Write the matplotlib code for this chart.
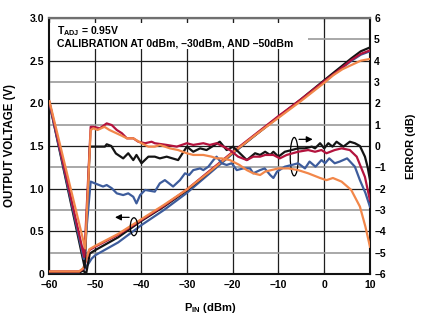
import matplotlib.pyplot as plt
from matplotlib.patches import Ellipse, Rectangle

plt.rcParams['font.family'] = ['Liberation Sans', 'DejaVu Sans']
plt.rcParams['font.weight'] = 'bold'
plt.rcParams['font.size'] = 7.5
plt.rcParams['mathtext.fontset'] = 'custom'
plt.rcParams['mathtext.rm'] = 'Liberation Sans:bold'
plt.rcParams['mathtext.it'] = 'Liberation Sans:bold'
plt.rcParams['mathtext.bf'] = 'Liberation Sans:bold'

# Output voltage vs input power (left axis, V)
pin_v_black = [-60, -53.5, -52.6, -52.0, -51.6, -51.2, -50, -45, -40, -35, -30, -25, -20,
               -15, -10, -5, 0, 3, 6, 8, 10]
vout_black = [0.02, 0.02, 0.04, 0.0, 0.12, 0.24, 0.28, 0.43, 0.62, 0.79, 0.98, 1.2, 1.42,
              1.63, 1.84, 2.05, 2.27, 2.4, 2.53, 2.61, 2.655]
pin_v_red = [-60, -53.5, -52.6, -51.3, -50, -45, -40, -35, -30, -25, -20, -15, -10, -5,
             0, 3, 6, 8, 10]
vout_red = [0.03, 0.03, 0.06, 0.28, 0.32, 0.46, 0.63, 0.8, 0.99, 1.21, 1.43, 1.64, 1.85,
            2.05, 2.26, 2.38, 2.51, 2.58, 2.62]
pin_v_blue = [-60, -53.5, -52.5, -51.5, -50.8, -50, -45, -40, -35, -30, -25, -20, -15,
              -10, -5, 0, 3, 6, 8, 10]
vout_blue = [0.02, 0.02, 0.05, 0.12, 0.18, 0.22, 0.37, 0.57, 0.75, 0.95, 1.18, 1.41, 1.63,
             1.84, 2.04, 2.25, 2.38, 2.5, 2.57, 2.61]
pin_v_orange = [-60, -53.5, -52.6, -51.3, -50, -45, -40, -35, -30, -25, -20, -15, -10, -5,
                0, 2, 4, 6, 8, 10]
vout_orange = [0.03, 0.03, 0.07, 0.29, 0.33, 0.47, 0.64, 0.81, 0.99, 1.2, 1.42, 1.63, 1.83,
               2.03, 2.24, 2.33, 2.4, 2.45, 2.5, 2.52]

# Log conformance error (right axis, dB)
pin_e_black = [-60, -52.3, -51.2, -50.8, -47.9, -47.5, -46.5, -45.5, -43.9, -42.8, -41.7,
               -41.0, -39.9, -38.4, -37.0, -35.9, -34.4, -31.9, -30.0, -28.6, -27.1, -25.7,
               -22.8, -21.3, -19.9, -16.9, -15.1, -14.0, -12.9, -11.8, -11.1, -10.0, -8.6,
               -7.1, -5.7, -4.2, -2.7, -2.0, -0.9, 0.0, 0.9, 1.8, 2.7, 4.2, 5.6, 6.7, 7.8,
               8.9, 9.5, 10.0]
err_black = [2.0, -5.7, -0.03, -0.03, -0.03, 0.08, 0.0, -0.35, -0.58, -0.34, -0.66,
             -0.42, -0.81, -0.5, -0.5, -0.58, -0.5, -0.66, -0.03, -0.27, -0.11, -0.19,
             0.2, -0.19, -0.03, -0.66, -0.34, -0.42, -0.27, -0.42, -0.27, -0.5, -0.27,
             -0.19, -0.11, -0.11, -0.03, -0.11, 0.13, -0.11, 0.13, -0.03, 0.2, -0.03, 0.2,
             0.13, 0.0, -0.5, -1.0, -1.6]
pin_e_red = [-60, -52.4, -51.0, -50.4, -49.0, -47.5, -46.4, -45.3, -44.2, -43.1, -41.7,
             -40.6, -39.1, -37.7, -37.0, -34.4, -32.2, -30.0, -28.6, -26.4, -25.0, -23.5,
             -22.0, -20.6, -18.8, -16.9, -15.5, -14.0, -12.9, -11.1, -9.7, -8.2, -5.7,
             -3.5, -2.0, -0.6, 0.5, 2.3, 3.8, 5.6, 7.1, 8.9, 10.0]
err_red = [2.05, -5.2, 0.9, 0.9, 0.83, 1.06, 0.98, 0.75, 0.6, 0.36, 0.36, 0.2, 0.13, 0.2,
           0.13, 0.05, -0.03, 0.13, 0.05, 0.13, 0.05, 0.13, -0.03, -0.19, -0.5, -0.66,
           -0.5, -0.5, -0.42, -0.42, -0.58, -0.42, -0.27, -0.19, -0.27, -0.19, -0.34,
           -0.19, -0.11, -0.19, -0.5, -1.45, -2.55]
pin_e_blue = [-60, -52.5, -51.0, -50.1, -48.3, -47.5, -46.4, -45.3, -43.9, -42.8, -41.7,
              -41.0, -40.2, -39.1, -37.0, -35.9, -34.8, -33.0, -31.5, -30.4, -29.5, -28.6,
              -27.1, -26.4, -25.3, -24.2, -23.5, -22.4, -21.3, -20.2, -19.1, -17.7, -16.2,
              -15.5, -14.0, -13.0, -11.8, -11.1, -10.3, -8.6, -7.1, -5.7, -4.2, -3.2, -1.9,
              -0.6, 0.2, 1.1, 2.3, 3.4, 5.0, 6.7, 7.8, 9.0, 10.0]
err_blue = [2.0, -5.3, -1.67, -1.75, -1.9, -1.83, -1.98, -2.22, -2.3, -2.22, -2.38, -2.69,
            -2.3, -2.06, -2.14, -1.75, -1.6, -1.9, -1.6, -1.28, -1.36, -1.13, -1.05, -1.13,
            -0.97, -0.66, -0.5, -0.81, -0.89, -0.81, -1.13, -1.05, -1.05, -1.28, -1.13,
            -1.05, -1.36, -1.5, -1.2, -0.97, -0.89, -0.81, -1.05, -0.73, -0.97, -0.66,
            -0.81, -0.58, -0.81, -0.73, -0.58, -0.97, -1.6, -2.2, -2.85]
pin_e_orange = [-60, -52.2, -51.0, -50.4, -49.5, -48.0, -46.9, -44.2, -43.1, -41.7, -39.9,
                -38.4, -37.0, -35.9, -33.7, -31.9, -30.0, -28.6, -26.4, -24.6, -23.5,
                -22.4, -20.6, -18.5, -16.9, -15.5, -14.0, -12.9, -10.0, -7.8, -5.7, -3.5,
                -0.9, 0.5, 1.9, 3.8, 5.9, 7.8, 9.0, 10.0]
err_orange = [2.1, -4.8, 0.75, 0.83, 0.75, 0.9, 0.75, 0.48, 0.36, 0.36, 0.13, -0.03, -0.03,
              0.05, -0.11, -0.19, -0.34, -0.42, -0.42, -0.5, -0.58, -0.58, -0.66, -0.89,
              -1.13, -1.28, -1.36, -1.2, -1.05, -1.05, -1.13, -1.28, -1.5, -1.6, -1.5,
              -1.67, -2.06, -2.84, -3.78, -4.72]

x_ticks = [-60, -50, -40, -30, -20, -10, 0, 10]
x_labels = ['\u201360', '\u201350', '\u201340', '\u201330', '\u201320', '\u201310', '0', '10']
v_ticks = [0, 0.5, 1.0, 1.5, 2.0, 2.5, 3.0]
v_labels = ['0', '0.5', '1.0', '1.5', '2.0', '2.5', '3.0']
e_ticks = list(range(-6, 7))
e_labels = ['\u2013%d' % -t if t < 0 else '%d' % t for t in e_ticks]

BLACK = '#141414'
RED = '#b3133d'
BLUE = '#3d5c9c'
ORANGE = '#f2874a'
LW = 1.6

fig = plt.figure(figsize=(4.24, 3.23), dpi=100)
ax = fig.add_axes([0.1167, 0.1517, 0.7559, 0.7926])
ax2 = ax.twinx()

ax.set_xlim(-60, 10)
ax.set_ylim(0, 3)
ax2.set_ylim(-6, 6)

# grid: dark lines every 10 dBm / 0.5 V, grey lines in between
ax.set_xticks(x_ticks)
ax.set_xticklabels(x_labels, fontweight='bold')
ax.set_yticks(v_ticks)
ax.set_yticklabels(v_labels, fontweight='bold')
ax.set_yticks([0.25, 0.75, 1.25, 1.75, 2.25, 2.75], minor=True)
ax.grid(True, which='major', color='#1e1e1e', lw=0.9)
ax.grid(True, which='minor', axis='y', color='#9a9a9a', lw=1.2)
ax.tick_params(which='both', length=0)
ax.tick_params(axis='x', pad=4.5)
ax.tick_params(axis='y', pad=4)
ax.tick_params(axis='x', which='major', top=True, direction='in', length=3, color='#1e1e1e')

ax2.set_yticks(e_ticks)
ax2.set_yticklabels(e_labels, fontweight='bold')
ax2.tick_params(length=0, pad=3)
for s in ax2.spines.values():
    s.set_visible(False)

for s in ['left', 'right', 'bottom']:
    ax.spines[s].set_linewidth(1.5)
    ax.spines[s].set_color('#111111')
ax.spines['top'].set_linewidth(1.6)
ax.spines['top'].set_color('#707070')

# output voltage traces
ax.plot(pin_v_blue, vout_blue, color=BLUE, lw=LW, zorder=3)
ax.plot(pin_v_black, vout_black, color=BLACK, lw=LW, zorder=3)
ax.plot(pin_v_red, vout_red, color=RED, lw=LW, zorder=3)
ax.plot(pin_v_orange, vout_orange, color=ORANGE, lw=LW, zorder=3)

# error traces
ax2.plot(pin_e_black, err_black, color=BLACK, lw=LW)
ax2.plot(pin_e_blue, err_blue, color=BLUE, lw=LW)
ax2.plot(pin_e_red, err_red, color=RED, lw=LW)
ax2.plot(pin_e_orange, err_orange, color=ORANGE, lw=LW)

# curve-group markers
ax.add_patch(Ellipse((-41.55, 0.554), 1.6, 0.21, fill=False, color='black', lw=0.9, zorder=4))
ax.annotate('', xy=(-46.3, 0.664), xytext=(-42.0, 0.664),
            arrowprops=dict(arrowstyle='-|>', color='black', lw=0.9, mutation_scale=9), zorder=4)
ax.add_patch(Ellipse((-6.54, 1.375), 1.75, 0.45, fill=False, color='black', lw=0.9, zorder=4))
ax.annotate('', xy=(-1.9, 1.578), xytext=(-6.1, 1.578),
            arrowprops=dict(arrowstyle='-|>', color='black', lw=0.9, mutation_scale=9), zorder=4)

# conditions box
ax.add_patch(Rectangle((-60, 2.64), 56.4, 0.30, facecolor='white', edgecolor='none', zorder=1.8))
ax.text(0.0225, 0.9375, 'T$_{\\rm ADJ}$ = 0.95V', transform=ax.transAxes,
        va='baseline', ha='left', fontsize=7.5, fontweight='bold', zorder=5)
ax.text(0.0225, 0.888, 'CALIBRATION AT 0dBm, \u201330dBm, AND \u201350dBm',
        transform=ax.transAxes, va='baseline', ha='left', fontsize=7.5, fontweight='bold',
        zorder=5)

ax.set_xlabel('P$_{\\rm IN}$ (dBm)', fontsize=8, fontweight='bold')
ax.xaxis.set_label_coords(0.5, -0.105)
ax.set_ylabel('OUTPUT VOLTAGE (V)', fontsize=8.3, fontweight='bold')
ax.yaxis.set_label_coords(-0.105, 0.5)
ax2.set_ylabel('ERROR (dB)', fontsize=8, fontweight='bold')
ax2.yaxis.set_label_coords(1.112, 0.5)

fig.savefig('out.png', dpi=100)
